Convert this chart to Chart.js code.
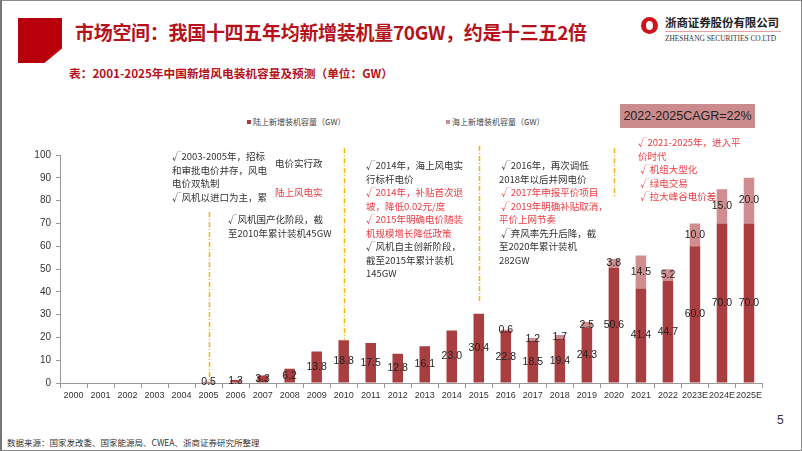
<!DOCTYPE html>
<html>
<head>
<meta charset="utf-8">
<script src="https://cdn.jsdelivr.net/npm/chart.js@4"></script>
<style>
  html, body { margin: 0; padding: 0; background: #fff; }
  #slide { position: relative; width: 802px; height: 451px; box-sizing: border-box;
           border: 1px solid #8a8a8a; border-left: 2px solid #777; overflow: hidden;
           font-family: "Noto Sans CJK SC", "Noto Sans", sans-serif; }
  .abs { position: absolute; white-space: nowrap; }
  #block { left: 16px; top: 17px; width: 44px; height: 45px; background: #b8000c;
           clip-path: polygon(0 0, 100% 0, 100% 68%, 60% 100%, 0 100%); }
  #title { left: 73px; top: 17px; font-size: 19px; font-weight: bold; color: #b5121b; line-height: 28px; letter-spacing: -0.3px; }
  #subtitle { left: 67px; top: 63px; font-size: 11.7px; font-weight: bold; color: #b5121b; line-height: 18px; }
  .note { font-size: 9.5px; line-height: 13.5px; color: #333; }
  .red { color: #ec3b3f; }
  .legend { font-size: 8px; color: #444; line-height: 12px; }
  .legend i { display: inline-block; width: 4px; height: 4px; margin-right: 2px; vertical-align: 1px; }
  #cagr { left: 618px; top: 103px; width: 135px; height: 24px; background: #cb8b8d; color: #222;
          font-family: "Liberation Sans", Arial, sans-serif; font-size: 12.5px; line-height: 24px; text-align: center; }
  #chartBox { position: absolute; left: 20px; top: 143px; width: 742px; height: 264px; }
</style>
</head>
<body>
<div id="slide">
  <div id="block" class="abs"></div>
  <div id="title" class="abs">市场空间：我国十四五年均新增装机量70GW，约是十三五2倍</div>
  <div id="subtitle" class="abs">表：2001-2025年中国新增风电装机容量及预测（单位：GW）</div>

  <!-- logo -->
  <div class="abs" style="left:639px;top:16px;width:17px;height:17px;border-radius:50%;background:#d0121b;"></div>
  <div class="abs" style="left:644px;top:20px;width:7px;height:9px;border-radius:50%;background:#fff;"></div>
  <div class="abs" style="left:663px;top:13px;font-size:11.5px;font-weight:bold;color:#222;line-height:16px;letter-spacing:-0.1px;">浙商证券股份有限公司</div>
  <div class="abs" style="left:663px;top:30px;width:116px;height:1px;background:#e6a0a4;"></div>
  <div class="abs" style="left:663px;top:33px;font-family:'Liberation Serif',serif;font-size:7.4px;color:#333;line-height:10px;">ZHESHANG SECURITIES CO.LTD</div>

  <div id="chartBox"><canvas id="c"></canvas></div>

  <div class="abs legend" style="left:245px;top:115px;"><i style="background:#a83e3f"></i>陆上新增装机容量（GW）</div>
  <div class="abs legend" style="left:444px;top:115px;"><i style="background:#d08d8f"></i>海上新增装机容量（GW）</div>
  <div id="cagr" class="abs">2022-2025CAGR=22%</div>

  <div class="abs note" style="left:170px;top:149px;">√2003-2005年，招标<br>和审批电价并存，风电<br>电价双轨制<br>√风机以进口为主，累</div>
  <div class="abs note" style="left:273px;top:156px;">电价实行政</div>
  <div class="abs note red" style="left:273px;top:185px;">陆上风电实</div>
  <div class="abs note" style="left:226px;top:212px;">√风机国产化阶段，截<br>至2010年累计装机45GW</div>

  <div class="abs note" style="left:364px;top:158px;">√2014年，海上风电实<br>行标杆电价<br><span class="red">√2014年，补贴首次退<br>坡，降低0.02元/度<br>√2015年明确电价随装<br>机规模增长降低政策</span><br>√风机自主创新阶段，<br>截至2015年累计装机<br>145GW</div>

  <div class="abs note" style="left:497px;top:158px;">&nbsp;√2016年，再次调低<br>2018年以后并网电价<br><span class="red">&nbsp;√2017年申报平价项目<br>&nbsp;√2019年明确补贴取消，<br>平价上网节奏</span><br>&nbsp;√弃风率先升后降，截<br>至2020年累计装机<br>282GW</div>

  <div class="abs note red" style="left:636px;top:135px;">√2021-2025年，进入平<br>价时代<br>&nbsp;√机组大型化<br>&nbsp;√绿电交易<br>&nbsp;√拉大峰谷电价差</div>

  <div class="abs" style="left:775px;top:412px;font-family:'Liberation Sans',Arial,sans-serif;font-size:12px;color:#333;">5</div>
  <div class="abs" style="left:5px;top:435px;font-size:8.5px;color:#333;line-height:12px;">数据来源：国家发改委、国家能源局、CWEA、浙商证券研究所整理</div>
</div>

<script>
// categories and series (GW)
const years = ['2000','2001','2002','2003','2004','2005','2006','2007','2008','2009','2010','2011','2012',
  '2013','2014','2015','2016','2017','2018','2019','2020','2021','2022','2023E','2024E','2025E'];
const onshore = [null,null,null,null,null,0.5,1.3,3.3,6.2,13.8,18.8,17.5,12.8,
  16.1,23.0,30.4,22.8,18.5,19.4,24.3,50.6,41.4,44.7,60.0,70.0,70.0];
const offshore = [null,null,null,null,null,null,null,null,null,null,null,null,null,
  null,null,null,0.6,1.2,1.7,2.5,3.8,14.5,5.2,10.0,15.0,20.0];
const yTicks = [0,10,20,30,40,50,60,70,80,90,100];

// dashed stage dividers: category, top value, bottom value
const guides = [
  { cat: '2005', from: 75, to: 0 },
  { cat: '2010', from: 103, to: 19 },
  { cat: '2015', from: 104, to: 35 },
  { cat: '2020', from: 103, to: 81 }
];

const guideLines = {
  id: 'guideLines',
  beforeDatasetsDraw(chart) {
    const { ctx, scales: { x, y } } = chart;
    ctx.save();
    ctx.strokeStyle = '#f2b705';
    ctx.lineWidth = 1.5;
    ctx.setLineDash([5, 2, 1, 2]);
    guides.forEach(g => {
      const px = Math.round(x.getPixelForValue(years.indexOf(g.cat))) + 0.5;
      ctx.beginPath();
      ctx.moveTo(px, y.getPixelForValue(g.from));
      ctx.lineTo(px, y.getPixelForValue(g.to));
      ctx.stroke();
    });
    ctx.restore();
  }
};

const valueLabels = {
  id: 'valueLabels',
  afterDatasetsDraw(chart) {
    const ctx = chart.ctx;
    ctx.save();
    ctx.font = '10.5px "Liberation Sans", Arial, sans-serif';
    ctx.fillStyle = '#222';
    ctx.textAlign = 'center';
    ctx.textBaseline = 'middle';
    chart.data.datasets.forEach((ds, i) => {
      chart.getDatasetMeta(i).data.forEach((bar, j) => {
        const v = ds.data[j];
        if (v == null) return;
        ctx.fillText(v.toFixed(1), bar.x, (bar.y + bar.base) / 2);
      });
    });
    ctx.restore();
  }
};

new Chart(document.getElementById('c'), {
  type: 'bar',
  data: {
    labels: years,
    datasets: [
      { label: '陆上新增装机容量（GW）', data: onshore, backgroundColor: '#a83e3f', barPercentage: 0.39, categoryPercentage: 1 },
      { label: '海上新增装机容量（GW）', data: offshore, backgroundColor: '#d08d8f', barPercentage: 0.39, categoryPercentage: 1 }
    ]
  },
  options: {
    responsive: true, maintainAspectRatio: false, animation: false,
    layout: { padding: { top: 10, right: 0, bottom: 0, left: 0 } },
    plugins: { legend: { display: false }, tooltip: { enabled: false } },
    scales: {
      x: {
        stacked: true,
        afterFit: s => { s.height = 25; },
        grid: { display: true, drawOnChartArea: false, offset: true, tickLength: 5, color: '#999' },
        border: { color: '#999' },
        ticks: { color: '#333', padding: 2, maxRotation: 0, autoSkip: false, font: { size: 9, family: '"Liberation Sans", Arial, sans-serif' } }
      },
      y: {
        stacked: true, min: 0, max: 100,
        afterFit: s => { s.width = 38; },
        afterBuildTicks: s => { s.ticks = yTicks.map(v => ({ value: v })); },
        grid: { display: true, drawOnChartArea: false, tickLength: 4, color: '#999' },
        border: { color: '#999' },
        ticks: { color: '#333', padding: 5, font: { size: 10, family: '"Liberation Sans", Arial, sans-serif' } }
      }
    }
  },
  plugins: [guideLines, valueLabels]
});
</script>
</body>
</html>
